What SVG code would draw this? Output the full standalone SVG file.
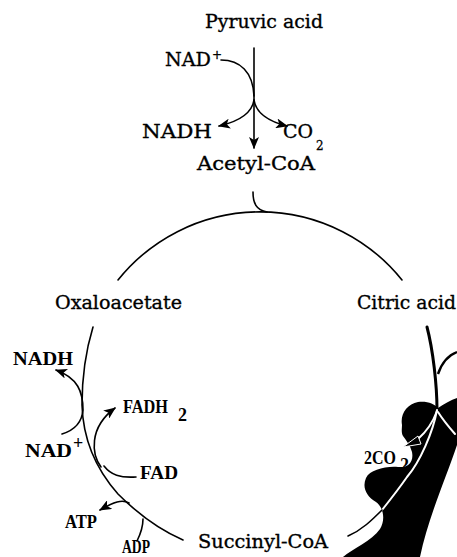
<svg xmlns="http://www.w3.org/2000/svg" width="457" height="557" viewBox="0 0 457 557">
  <style>
    .lbl { font-family: "DejaVu Serif", "Liberation Serif", serif; font-size: 19px; fill: #000; stroke: #000; stroke-width: 0.35; }
    .sm { font-family: "Liberation Serif", "DejaVu Serif", serif; font-weight: bold; font-size: 18px; fill: #000; }
    .sub { font-family: "DejaVu Serif", "Liberation Serif", serif; font-size: 12px; fill: #000; stroke: #000; stroke-width: 0.3; }
    .ln { fill: none; stroke: #000; stroke-width: 1.6; stroke-linecap: round; }
    .wl { fill: none; stroke: #fff; stroke-width: 2; stroke-linecap: round; }
  </style>
  <defs>
    <marker id="ah" viewBox="0 0 12 10" refX="11" refY="5" markerWidth="12" markerHeight="10" markerUnits="userSpaceOnUse" orient="auto">
      <path d="M0,0 L12,5 L0,10 L3,5 Z" fill="#000"/>
    </marker>
  </defs>
  <rect width="457" height="557" fill="#fff"/>

  <!-- cycle and reaction lines -->
  <g id="connectors">
    <!-- pyruvate to acetyl-CoA -->
    <path class="ln" d="M254,48 L254,148" marker-end="url(#ah)"/>
    <path class="ln" d="M221,60 C240,60 253,72 254,96"/>
    <path class="ln" d="M254,100 C252,113 241,121 219,126" marker-end="url(#ah)"/>
    <path class="ln" d="M254,100 C256,113 267,121 287,126" marker-end="url(#ah)"/>
    <!-- acetyl-CoA entering the cycle -->
    <path class="ln" d="M253,192 C253,203 256,210 267,212"/>
    <!-- top arc -->
    <path class="ln" d="M118,280 A182,182 0 0 1 402,280"/>
    <!-- left side of the cycle -->
    <path class="ln" d="M93,327 C86,350 82,380 82,405 C83,440 95,468 118,494 C138,514 160,530 183,540"/>
    <!-- NAD+ / NADH -->
    <path class="ln" d="M62,434 C75,430 82,422 83,410 C83,392 78,378 56,370" marker-end="url(#ah)"/>
    <!-- FAD / FADH2 -->
    <path class="ln" d="M101,467 C92,455 88,428 115,408" marker-end="url(#ah)"/>
    <path class="ln" d="M136,477 C120,478 111,475 104,466"/>
    <!-- ADP / ATP -->
    <path class="ln" d="M129,503 C122,499 114,502 100,510" marker-end="url(#ah)"/>
    <path class="ln" d="M137,541 C141,533 143,527 143,519"/>
    <!-- right side of the cycle -->
    <path d="M427,327 C433,350 437,385 437,410" fill="none" stroke="#000" stroke-width="3" stroke-linecap="round"/>
    <path d="M438,374 C442,362 449,355 457,352" fill="none" stroke="#000" stroke-width="2.4"/>
  </g>

  <!-- ink blot over the lower right of the cycle -->
  <g id="blot">
    <path d="M402,425 C400,414 407,404 418,402 C428,401 434,404 438,408 C444,404 451,400 457,398 L457,445 C446,478 428,518 420,557 L343,557 C352,549 372,541 380,529 C386,519 383,507 376,502 C366,496 362,487 366,478 C370,470 385,466 398,467 C408,468 414,462 412,452 C410,445 406,440 403,436 C401,432 402,428 402,425 Z" fill="#000"/>
    <path class="wl" d="M437,410 C433,432 420,462 407,477 C398,490 390,500 382,510"/>
    <path class="ln" d="M382,510 C372,520 362,530 348,536"/>
    <path class="wl" d="M437,411 C433,422 426,432 418,439"/>
    <path d="M418,436 L403,447 L421,444 Z" fill="#000" stroke="#fff" stroke-width="1"/>
    <path class="wl" d="M438,412 C443,420 448,426 455,434"/>
  </g>

  <g id="pyruvic-acid"><text class="lbl" x="205" y="28" textLength="118" lengthAdjust="spacingAndGlyphs">Pyruvic acid</text></g>
  <g id="nad-top"><text class="lbl" x="165" y="66" textLength="46" lengthAdjust="spacingAndGlyphs">NAD</text><text class="sub" x="212" y="59">+</text></g>
  <g id="nadh-top"><text class="lbl" x="142" y="138" textLength="70" lengthAdjust="spacingAndGlyphs">NADH</text></g>
  <g id="co2-top"><text class="lbl" x="283" y="138" textLength="30" lengthAdjust="spacingAndGlyphs">CO</text><text class="sub" x="316" y="150">2</text></g>
  <g id="acetyl-coa"><text class="lbl" x="197" y="170" textLength="118" lengthAdjust="spacingAndGlyphs">Acetyl-CoA</text></g>
  <g id="oxaloacetate"><text class="lbl" x="55" y="309" textLength="127" lengthAdjust="spacingAndGlyphs">Oxaloacetate</text></g>
  <g id="citric-acid"><text class="lbl" x="357" y="309" textLength="99" lengthAdjust="spacingAndGlyphs">Citric acid</text></g>
  <g id="nadh-left"><text class="sm" x="13" y="365" font-size="19" textLength="60" lengthAdjust="spacingAndGlyphs">NADH</text></g>
  <g id="nad-left"><text class="sm" x="25" y="457" font-size="19" textLength="47" lengthAdjust="spacingAndGlyphs">NAD</text><text class="sm" x="73" y="449" font-size="15">+</text></g>
  <g id="fadh2"><text class="sm" x="123" y="413" textLength="45" lengthAdjust="spacingAndGlyphs">FADH</text><text class="sm" x="178" y="421" font-size="14">2</text></g>
  <g id="fad"><text class="sm" x="140" y="479" textLength="38" lengthAdjust="spacingAndGlyphs">FAD</text></g>
  <g id="atp"><text class="sm" x="65" y="528" textLength="32" lengthAdjust="spacingAndGlyphs">ATP</text></g>
  <g id="adp"><text class="sm" x="122" y="553" font-size="17" textLength="28" lengthAdjust="spacingAndGlyphs">ADP</text></g>
  <g id="co2-right"><text class="sm" x="364" y="464" font-size="16" textLength="32" lengthAdjust="spacingAndGlyphs">2CO</text><text class="sm" x="400" y="471" font-size="12">2</text></g>
  <g id="succinyl-coa"><text class="lbl" x="198" y="548" textLength="130" lengthAdjust="spacingAndGlyphs">Succinyl-CoA</text></g>
</svg>
